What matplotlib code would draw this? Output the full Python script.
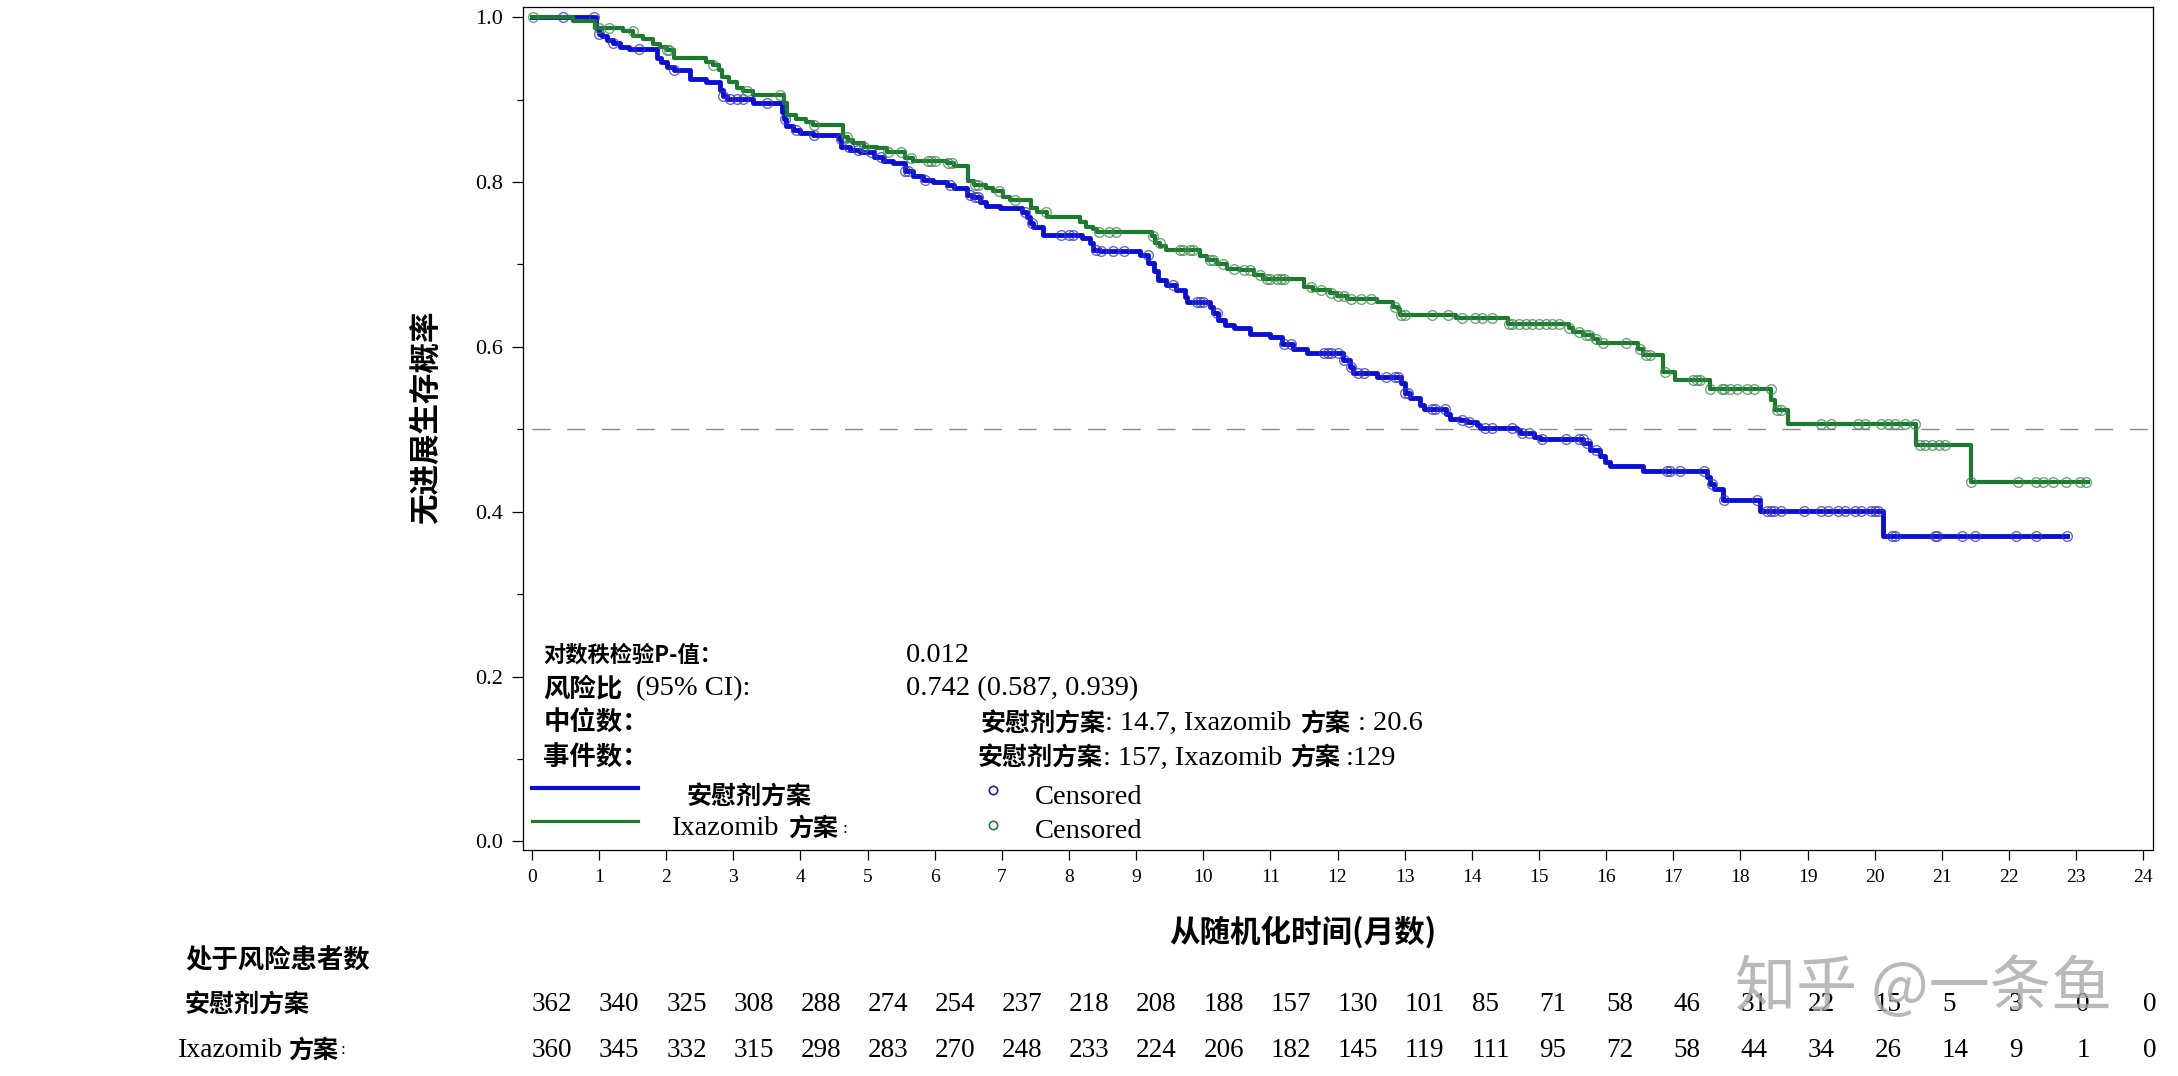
import numpy as np
import matplotlib
matplotlib.use('Agg')
import matplotlib.pyplot as plt
from matplotlib.transforms import offset_copy, blended_transform_factory

CJK = ['Noto Sans CJK SC', 'DejaVu Sans']
SERIF = ['Liberation Serif', 'DejaVu Serif']

# --- data ---
placebo_t = [0, 0.96, 1.00, 1.05, 1.12, 1.21, 1.31, 1.45, 1.86, 1.93, 2.01, 2.11, 2.36, 2.60,
             2.80, 2.85, 2.90, 3.30, 3.72, 3.75, 3.78, 3.89, 3.99, 4.19, 4.57, 4.61, 4.74, 4.89,
             5.09, 5.23, 5.38, 5.56, 5.68, 5.83, 5.98, 6.18, 6.28, 6.48, 6.55, 6.67, 6.77, 6.97,
             7.30, 7.37, 7.42, 7.47, 7.62, 8.19, 8.31, 8.36, 8.46, 9.06, 9.18, 9.26, 9.33, 9.45,
             9.60, 9.73, 9.75, 10.10, 10.15, 10.22, 10.32, 10.45, 10.70, 11.00, 11.17, 11.34,
             11.54, 12.08, 12.18, 12.23, 12.58, 12.95, 13.00, 13.08, 13.23, 13.28, 13.62, 13.67,
             13.82, 13.92, 14.07, 14.12, 14.67, 14.72, 14.92, 15.01, 15.66, 15.76, 15.91, 15.98,
             16.05, 16.55, 17.50, 17.55, 17.60, 17.74, 18.29, 20.13, 22.86]
placebo_s = [1.0, 0.987, 0.980, 0.977, 0.973, 0.969, 0.964, 0.961, 0.951, 0.946, 0.940, 0.936,
             0.925, 0.922, 0.912, 0.904, 0.901, 0.896, 0.885, 0.877, 0.868, 0.863, 0.859, 0.857,
             0.852, 0.843, 0.839, 0.836, 0.831, 0.826, 0.823, 0.813, 0.807, 0.803, 0.800, 0.797,
             0.793, 0.784, 0.782, 0.776, 0.771, 0.768, 0.764, 0.758, 0.750, 0.746, 0.736, 0.732,
             0.726, 0.718, 0.716, 0.712, 0.702, 0.692, 0.681, 0.675, 0.669, 0.661, 0.654, 0.649,
             0.641, 0.633, 0.627, 0.623, 0.616, 0.612, 0.604, 0.598, 0.592, 0.584, 0.576, 0.568,
             0.564, 0.556, 0.544, 0.538, 0.529, 0.525, 0.519, 0.513, 0.511, 0.509, 0.505, 0.502,
             0.499, 0.495, 0.491, 0.488, 0.483, 0.475, 0.467, 0.460, 0.455, 0.449, 0.442, 0.434,
             0.428, 0.414, 0.401, 0.370, 0.370]

ixa_t = [0, 0.62, 0.94, 1.36, 1.51, 1.66, 1.81, 1.91, 2.01, 2.11, 2.60, 2.70, 2.78, 2.83, 2.93,
         3.05, 3.15, 3.30, 3.75, 3.80, 3.94, 4.09, 4.19, 4.64, 4.71, 4.79, 4.94, 5.14, 5.29, 5.55,
         5.68, 6.18, 6.28, 6.50, 6.58, 6.77, 6.87, 7.02, 7.12, 7.44, 7.52, 7.67, 8.16, 8.26, 8.36,
         8.41, 9.23, 9.28, 9.36, 9.45, 9.95, 10.05, 10.20, 10.35, 10.55, 10.75, 10.89, 11.50,
         11.64, 11.89, 11.99, 12.14, 12.58, 12.83, 12.90, 12.93, 13.77, 14.54, 15.44, 15.51,
         15.66, 15.81, 15.88, 16.48, 16.55, 16.85, 17.02, 17.55, 18.46, 18.51, 18.71, 20.62,
         21.44, 23.18]
ixa_s = [1.0, 0.996, 0.987, 0.983, 0.977, 0.974, 0.968, 0.964, 0.960, 0.950, 0.946, 0.942, 0.936,
         0.928, 0.922, 0.914, 0.910, 0.906, 0.896, 0.881, 0.877, 0.873, 0.869, 0.855, 0.851, 0.847,
         0.843, 0.841, 0.837, 0.829, 0.826, 0.823, 0.820, 0.801, 0.797, 0.793, 0.789, 0.782, 0.778,
         0.768, 0.764, 0.758, 0.752, 0.746, 0.743, 0.740, 0.734, 0.726, 0.722, 0.718, 0.710, 0.705,
         0.700, 0.695, 0.693, 0.687, 0.683, 0.673, 0.669, 0.665, 0.662, 0.658, 0.654, 0.649, 0.646,
         0.639, 0.635, 0.628, 0.623, 0.618, 0.614, 0.610, 0.605, 0.598, 0.590, 0.570, 0.560, 0.549,
         0.536, 0.524, 0.507, 0.481, 0.436, 0.436]

placebo_cens = [0.47, 0.93, 1.0, 1.21, 1.6, 2.11, 2.85, 2.95, 3.05, 3.15, 3.5, 3.77, 3.94, 4.2,
                4.6, 4.72, 4.85, 5.05, 5.2, 5.56, 5.6, 5.85, 6.23, 6.53, 6.6, 6.65, 7.35, 7.45,
                7.88, 8.0, 8.06, 8.4, 8.48, 8.65, 8.82, 9.17, 9.55, 9.9, 9.95, 10.0, 10.2, 11.2,
                11.3, 11.8, 11.85, 11.9, 12.0, 12.1, 12.2, 12.3, 12.4, 12.72, 12.85, 12.9, 13.0,
                13.05, 13.4, 13.45, 13.6, 13.85, 13.95, 14.2, 14.3, 14.6, 14.75, 14.85, 15.05,
                15.4, 15.6, 15.65, 15.72, 15.85, 16.9, 16.95, 17.1, 17.45, 17.58, 17.75, 18.25,
                18.4, 18.45, 18.5, 18.6, 18.95, 19.2, 19.3, 19.45, 19.55, 19.7, 19.8, 19.95, 20.0,
                20.05, 20.25, 20.3, 20.9, 20.92, 21.3, 21.5, 22.1, 22.4, 22.86]
ixa_cens = [0.02, 1.0, 1.15, 1.5, 2.01, 2.05, 2.7, 3.2, 3.7, 4.2, 4.7, 4.95, 5.3, 5.5, 5.65,
            5.9, 5.95, 6.0, 6.2, 6.25, 6.6, 6.65, 6.95, 7.2, 7.65, 8.45, 8.6, 8.7, 9.25, 9.35,
            9.65, 9.7, 9.8, 9.85, 10.1, 10.15, 10.3, 10.45, 10.6, 10.7, 10.85, 10.95, 11.0, 11.1,
            11.15, 11.2, 11.6, 11.75, 11.9, 12.0, 12.1, 12.2, 12.35, 12.5, 12.85, 12.95, 13.0,
            13.4, 13.65, 13.85, 14.05, 14.15, 14.3, 14.55, 14.6, 14.7, 14.8, 14.9, 15.0, 15.1,
            15.2, 15.3, 15.45, 15.6, 15.7, 15.75, 15.85, 15.95, 16.3, 16.5, 16.6, 16.65, 16.87,
            17.3, 17.35, 17.4, 17.55, 17.72, 17.75, 17.85, 17.95, 18.1, 18.2, 18.45, 18.55, 18.6,
            19.2, 19.35, 19.75, 19.85, 20.1, 20.2, 20.3, 20.45, 20.6, 20.67, 20.75, 20.85, 20.95,
            21.05, 21.44, 22.13, 22.4, 22.5, 22.65, 22.85, 23.05, 23.15]

months = list(range(25))
risk_placebo = [362, 340, 325, 308, 288, 274, 254, 237, 218, 208, 188, 157, 130, 101, 85, 71,
                58, 46, 31, 22, 15, 5, 3, 0, 0]
risk_ixa = [360, 345, 332, 315, 298, 283, 270, 248, 233, 224, 206, 182, 145, 119, 111, 95, 72,
            58, 44, 34, 26, 14, 9, 1, 0]

BLUE = '#0b0fd6'
GREEN = '#1b7a2d'

fig = plt.figure(figsize=(21.78, 10.76), dpi=100)
ax = fig.add_axes([0.240, 0.210, 0.7484, 0.7835])
renderer = fig.canvas.get_renderer()


def censor_y(t, s, c):
    idx = np.searchsorted(t, c, side='right') - 1
    return np.asarray(s)[idx]


# curves + censor marks
ax.plot([0, 24.1], [0.5, 0.5], color='#8a8a8a', lw=1.0, dashes=(13, 12), zorder=1)
ax.step(placebo_t, placebo_s, where='post', color=BLUE, lw=3.5, zorder=3)
ax.plot(placebo_cens, censor_y(placebo_t, placebo_s, placebo_cens), 'o', mfc='none',
        mec='#3535c8', ms=7, mew=1.0, alpha=0.75, zorder=4)
ax.step(ixa_t, ixa_s, where='post', color=GREEN, lw=3.0, zorder=5)
ax.plot(ixa_cens, censor_y(ixa_t, ixa_s, ixa_cens), 'o', mfc='none',
        mec='#3f8a4f', ms=7, mew=1.0, alpha=0.75, zorder=6)

# axes
ax.set_xlim(-0.136, 24.14)
ax.set_ylim(-0.0106, 1.0125)
ax.set_xticks(months)
ax.set_xticklabels([str(m) for m in months], family=SERIF, fontsize=14)
ax.set_yticks([0, 0.2, 0.4, 0.6, 0.8, 1.0])
ax.set_yticklabels(['0.0', '0.2', '0.4', '0.6', '0.8', '1.0'], family=SERIF, fontsize=16)
ax.set_yticks([0.1, 0.3, 0.5, 0.7, 0.9], minor=True)
ax.tick_params(axis='y', which='major', length=8, width=0.9, pad=6)
ax.tick_params(axis='y', which='minor', length=4.5, width=0.9)
ax.tick_params(axis='x', which='major', length=7, width=0.9, pad=7)
for sp in ax.spines.values():
    sp.set_linewidth(0.9)

fig.text(0.1957, 0.6125, '无进展生存概率', rotation=90, ha='center', va='center',
         family=CJK, fontsize=22, weight='bold')
fig.text(0.598, 0.1335, '从随机化时间(月数)', ha='center', va='center',
         family=CJK, fontsize=22, weight='bold')


# text made of CJK bold and serif pieces, laid out one after another
def put_line(x, y, pieces, trans=None, target=None):
    trans = trans or ax.transData
    target = target or ax
    dx = 0.0
    for p in pieces:
        if p[0] == 'gap':
            dx += p[1]
            continue
        txt, kind, size = p
        kw = dict(family=CJK, weight='bold') if kind == 'cjk' else dict(family=SERIF)
        t = target.text(x, y, txt, transform=offset_copy(trans, fig=fig, x=dx, units='dots'),
                        fontsize=size, ha='left', va='center', **kw)
        dx += t.get_window_extent(renderer).width


put_line(0.17, 0.226, [('对数秩检验P-值：', 'cjk', 16)])
put_line(5.57, 0.226, [('0.012', 'serif', 20.5)])
put_line(0.17, 0.185, [('风险比', 'cjk', 19), ('gap', 14), ('(95% CI):', 'serif', 20.5)])
put_line(5.57, 0.185, [('0.742 (0.587, 0.939)', 'serif', 20.5)])
put_line(0.17, 0.143, [('中位数：', 'cjk', 19)])
put_line(6.68, 0.143, [('安慰剂方案', 'cjk', 18), (': 14.7, Ixazomib', 'serif', 20.5), ('gap', 8),
                       ('方案', 'cjk', 18), ('gap', 8), (': 20.6', 'serif', 20.5)])
put_line(0.17, 0.101, [('事件数：', 'cjk', 19)])
put_line(6.64, 0.101, [('安慰剂方案', 'cjk', 18), (': 157, Ixazomib', 'serif', 20.5), ('gap', 8),
                       ('方案', 'cjk', 18), ('gap', 6), (':129', 'serif', 20.5)])

# legend drawn by hand like the original
ax.plot([0, 1.575], [0.065, 0.065], color=BLUE, lw=3.0)
ax.plot([0, 1.575], [0.0246, 0.0246], color=GREEN, lw=2.3)
put_line(2.30, 0.054, [('安慰剂方案', 'cjk', 18)])
put_line(2.07, 0.015, [('Ixazomib', 'serif', 20.5), ('gap', 10), ('方案', 'cjk', 18),
                       ('gap', 4), (':', 'serif', 12)])
ax.plot([6.87], [0.062], 'o', mfc='none', mec='#2020a0', ms=6, mew=1.2)
ax.plot([6.87], [0.0198], 'o', mfc='none', mec='#2a7a3a', ms=6, mew=1.2)
put_line(7.49, 0.053, [('Censored', 'serif', 20.5)])
put_line(7.49, 0.0114, [('Censored', 'serif', 20.5)])

# numbers at risk
fig.text(0.0849, 0.1067, '处于风险患者数', ha='left', va='center', family=CJK,
         fontsize=19, weight='bold')
fig.text(0.0849, 0.0662, '安慰剂方案', ha='left', va='center', family=CJK,
         fontsize=18, weight='bold')
put_line(0.0817, 0.0238, [('Ixazomib', 'serif', 20), ('gap', 5), ('方案', 'cjk', 18),
                          ('gap', 3), (':', 'serif', 12)], trans=fig.transFigure, target=fig)
row_tr = blended_transform_factory(ax.transData, fig.transFigure)
for m, a, b in zip(months, risk_placebo, risk_ixa):
    fig.text(m, 0.0662, str(a), transform=row_tr, ha='left', va='center',
             family=SERIF, fontsize=19.5)
    fig.text(m, 0.0238, str(b), transform=row_tr, ha='left', va='center',
             family=SERIF, fontsize=19.5)

# site watermark
fig.text(0.883, 0.081, '知乎 @一条鱼', ha='center', va='center', family=CJK,
         fontsize=44, color='#a8a8a8', alpha=0.8, zorder=10)

fig.savefig('out.png', dpi=100)
